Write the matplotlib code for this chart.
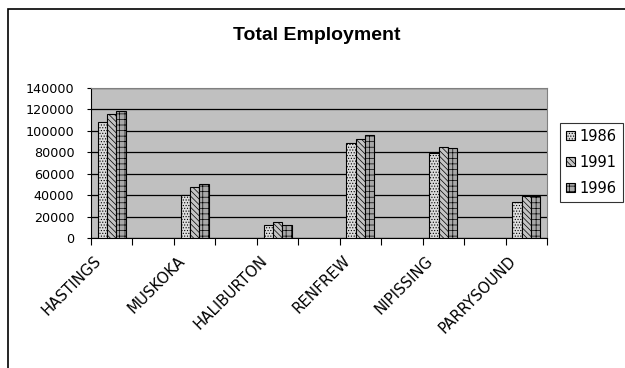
import numpy as np
import matplotlib.pyplot as plt
from matplotlib.patches import Rectangle

plt.rcParams['font.family'] = ['DejaVu Sans']
plt.rcParams['hatch.linewidth'] = 0.5

# Dados
regions = ['HASTINGS', 'MUSKOKA', 'HALIBURTON', 'RENFREW', 'NIPISSING', 'PARRYSOUND']
years = ['1986', '1991', '1996']
emp_1986 = [108500, 40500, 12500, 89000, 79000, 34000]
emp_1991 = [116000, 48000, 14500, 92500, 85000, 39000]
emp_1996 = [119000, 50500, 12500, 96000, 84000, 39000]
y_ticks = [0, 20000, 40000, 60000, 80000, 100000, 120000, 140000]

fig = plt.figure(figsize=(6.25, 3.68), dpi=100)
ax = fig.add_axes([91 / 625, 1 - 238 / 368, 456 / 625, 150 / 368])
ax.set_facecolor('#c0c0c0')

# cada região ocupa um intervalo, com um intervalo vazio entre elas
x = np.arange(len(regions)) * 2 + 0.5
w = 0.225
styles = [('#dcdcdc', '......'), ('#c4c4c4', '\\\\\\\\\\\\'), ('#a8a8a8', '+++')]
for i, (vals, (fc, hatch)) in enumerate(zip([emp_1986, emp_1991, emp_1996], styles)):
    ax.bar(x + (i - 1) * w, vals, width=w, facecolor=fc, hatch=hatch,
           edgecolor='black', linewidth=0.8, label=years[i], zorder=3)

ax.set_ylim(0, 140000)
ax.set_xlim(0, 11)
ax.set_yticks(y_ticks)
ax.set_yticklabels([str(t) for t in y_ticks], fontsize=9.2)
ax.yaxis.grid(True, color='black', linewidth=0.9, zorder=1)
ax.set_axisbelow(True)

# rótulos um pouco à esquerda do centro, como no Excel
ax.set_xticks(np.arange(12), minor=True)
ax.set_xticks(x - 0.43)
ax.set_xticklabels(regions, rotation=45, ha='right', va='top',
                   rotation_mode='anchor', fontsize=10.8)
ax.tick_params(axis='x', which='major', length=0, pad=11)
ax.tick_params(axis='x', which='minor', length=5, width=0.8, direction='out')
ax.tick_params(axis='y', length=3, width=0.8, pad=9)

ax.spines['left'].set_color('black')
ax.spines['bottom'].set_color('black')
ax.spines['top'].set_color('#808080')
ax.spines['right'].set_color('#808080')

fig.text(317 / 625, 1 - 36 / 368, 'Total Employment', ha='center', va='center',
         fontsize=14, fontweight='bold', family='Liberation Sans')

leg = fig.legend(loc='upper left', bbox_to_anchor=(560 / 625, 1 - 123 / 368),
                 fontsize=10.5, frameon=True, fancybox=False, edgecolor='black',
                 handlelength=0.6, handleheight=0.6, handletextpad=0.35,
                 borderpad=0.4, labelspacing=0.75, borderaxespad=0)
leg.get_frame().set_linewidth(0.8)

# moldura do gráfico (cortada à direita e embaixo)
fig.patches.append(Rectangle((8 / 625, -0.1), 1.2, 1 - 9 / 368 + 0.1,
                             transform=fig.transFigure, fill=False,
                             edgecolor='black', linewidth=1.2))

fig.savefig('out.png', dpi=100)
